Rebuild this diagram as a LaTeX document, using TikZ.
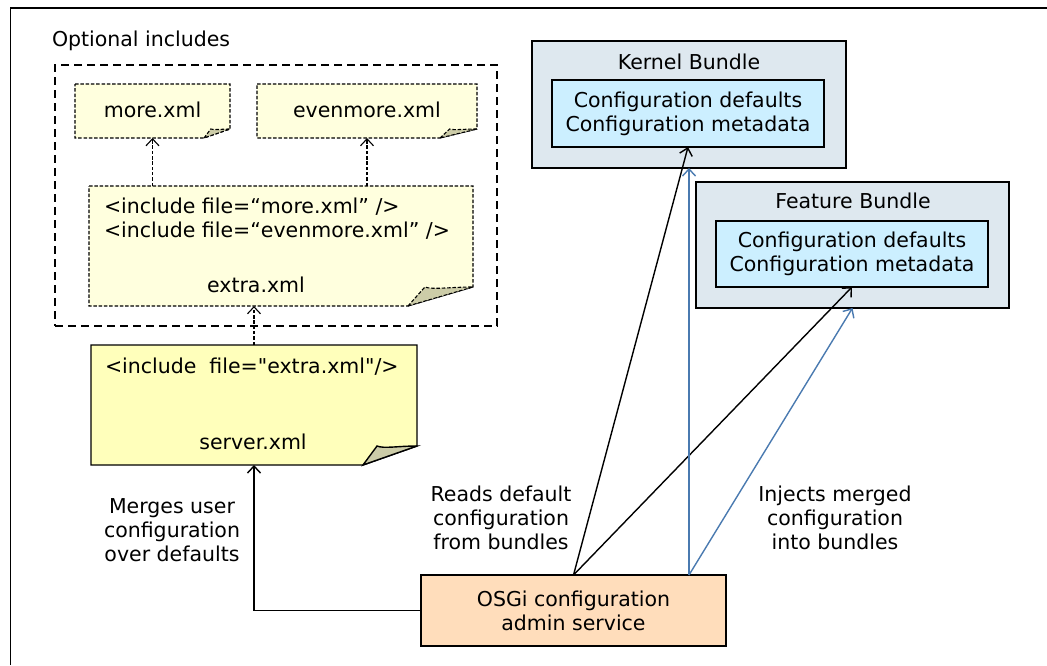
\documentclass[tikz,border=0pt]{standalone}
\usepackage{fontspec}
\setmainfont{DejaVu Sans}[Ligatures=TeXOff]
\usetikzlibrary{arrows.meta}
\definecolor{notelight}{HTML}{FFFFDE}
\definecolor{noteyellow}{HTML}{FFFFBB}
\definecolor{foldcol}{HTML}{CCCCA8}
\definecolor{bundlefill}{HTML}{DEE8EF}
\definecolor{innerfill}{HTML}{CCEFFF}
\definecolor{osgifill}{HTML}{FFDDBB}
\definecolor{injectblue}{HTML}{4A7AB0}
\newcommand\drawnote[4]{%
  \path[#4] (#1.north west) -- (#1.north east) -- ([yshift=#3pt]#1.south east)
     -- ([xshift=-#2pt]#1.south east) -- (#1.south west) -- cycle;
  \path[#4, fill=foldcol] ([xshift=-#2pt]#1.south east)
     -- ([xshift={-0.74*#2pt},yshift=#3pt]#1.south east)
     .. controls ([xshift={-0.62*#2pt},yshift={0.85*#3pt}]#1.south east)
        and ([xshift={-0.35*#2pt},yshift={1.0*#3pt}]#1.south east)
     .. ([yshift=#3pt]#1.south east) -- cycle;
}
\begin{document}
\begin{tikzpicture}[x=1pt,y=-1pt,
  font=\fontsize{20.5}{24}\selectfont,
  every node/.style={inner sep=0pt, outer sep=0pt},
  boxsize/.style 2 args={minimum width=#1, minimum height=#2},
  optbox/.style={draw, line width=1.8pt, dash pattern=on 8pt off 5pt},
  dnote/.style={draw, fill=notelight, line width=1.1pt, dash pattern=on 3.5pt off 1.8pt},
  snote/.style={draw, fill=noteyellow, line width=1.4pt},
  outerbox/.style={draw, fill=bundlefill, line width=1.6pt},
  innerbox/.style={draw, fill=innerfill, line width=1.6pt, align=center},
  osgibox/.style={draw, fill=osgifill, line width=1.6pt, align=center},
  lbl/.style={align=center},
  tip/.style={-{Straight Barb[length=7pt,width=13pt]}},
  dasharrow/.style={tip, line width=1.1pt, dash pattern=on 3.5pt off 1.8pt},
  readarrow/.style={tip, line width=1.4pt},
  injectarrow/.style={tip, line width=1.4pt, draw=injectblue},
]
\useasboundingbox (0,0) rectangle (1047,665);
% frame
\draw[line width=1.5pt] (10.5,665) -- (10.5,8) -- (1047,8);

% optional includes
\node[anchor=west] (optlabel) at (52,41) {Optional includes};
\node[optbox, boxsize={442}{261}] (opt) at (276,195.5) {};

% notes (anchor nodes)
\node[boxsize={155}{54}] (more) at (152.5,111) {};
\node[boxsize={220}{54}] (evenmore) at (367,111) {};
\node[boxsize={384}{120}] (extra) at (281,246) {};
\node[boxsize={326}{120}] (server) at (254,405) {};
\drawnote{more}{26}{9}{dnote}
\drawnote{evenmore}{37}{9}{dnote}
\drawnote{extra}{65}{19}{dnote}
\drawnote{server}{54}{19}{snote}

\node (moretxt) at (152.5,110) {more.xml};
\node (evenmoretxt) at (367,110) {evenmore.xml};
\node[anchor=west, align=left] (extraincl) at (104,218.5)
  {<include file=“more.xml” />\\<include file=“evenmore.xml” />};
\node (extratxt) at (256,285) {extra.xml};
\node[anchor=west] (serverincl) at (105,367) {<include~ file="extra.xml"/>};
\node (servertxt) at (253,442) {server.xml};

% bundles
\node[outerbox, boxsize={314}{127}] (kernel) at (689,104.5) {};
\node (kerneltxt) at (689,62) {Kernel Bundle};
\node[innerbox, boxsize={272}{67}] (kinner) at (688,113.5)
  {Configuration defaults\\Configuration metadata};
\node[outerbox, boxsize={313}{126}] (feature) at (852.5,245) {};
\node (featuretxt) at (853,201) {Feature Bundle};
\node[innerbox, boxsize={272}{66}] (finner) at (852,254)
  {Configuration defaults\\Configuration metadata};

% OSGi
\node[osgibox, boxsize={305}{71}] (osgi) at (573.5,610.5)
  {OSGi configuration\\admin service};

% labels
\node[lbl] (mergeslbl) at (172,530) {Merges user\\configuration\\over defaults};
\node[lbl] (readslbl) at (501,518) {Reads default\\configuration\\from bundles};
\node[lbl] (injectslbl) at (835,518) {Injects merged\\configuration\\into bundles};

% connectors
\draw[dasharrow] (extra.north -| more.south) -- (more.south);
\draw[dasharrow] (extra.north -| evenmore.south) -- (evenmore.south);
\draw[dasharrow] (server.north) -- (server.north |- extra.south);
\draw[readarrow] (osgi.west) -| (server.south);
\draw[readarrow] (osgi.north) -- (kinner.south);
\draw[readarrow] (osgi.north) -- (finner.south);
\draw[injectarrow] (osgi.north -| kernel.south) -- (kernel.south);
\draw[injectarrow] (osgi.north -| kernel.south) -- (feature.south);
\end{tikzpicture}
\end{document}
